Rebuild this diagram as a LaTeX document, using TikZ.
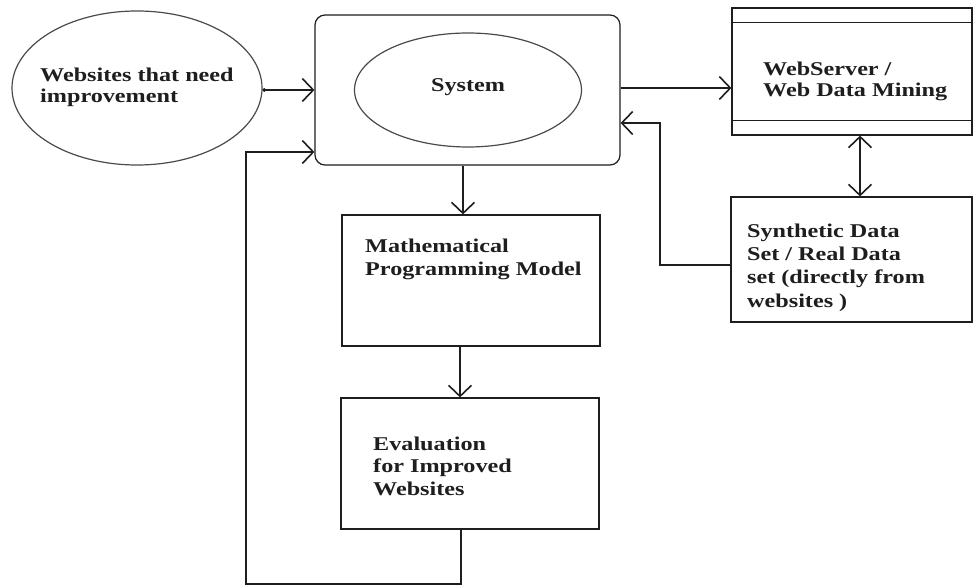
\documentclass[tikz,border=0pt]{standalone}
\usepackage{fontspec}
\setmainfont[FakeStretch=1.24]{Liberation Serif}
\usetikzlibrary{arrows.meta,calc,shapes.geometric}
\definecolor{ink}{HTML}{1E1E1E}
\definecolor{rim}{HTML}{4A4A4A}
\tikzset{
  shapebox/.style={draw=ink,line width=1.2pt,rectangle,inner sep=0pt},
  oval/.style={draw=rim,line width=1.2pt,ellipse,inner sep=0pt},
  lbl/.style={anchor=base west,inner sep=0pt,align=left,text=ink,
    font=\bfseries\fontsize{19.5}{21.5}\selectfont},
  barb/.tip={Straight Barb[length=11pt,width=23pt,line width=1.6pt]},
  arr/.style={draw=ink,line width=2.2pt,-barb},
  dbl/.style={draw=ink,line width=2.2pt,barb-barb}
}
\begin{document}
\begin{tikzpicture}[x=1pt,y=-1pt]
\useasboundingbox[fill=white] (0,0) rectangle (973,588);
% shapes
\node[oval,minimum width=250pt,minimum height=154pt] (web) at (137,88) {};
\node[shapebox,rounded corners=10pt,minimum width=305pt,minimum height=150pt] (sys) at (467.5,90) {};
\node[oval,minimum width=227pt,minimum height=114pt] (sysin) at (468,90) {};
\node[shapebox,minimum width=240pt,minimum height=127pt] (ws) at (852,71.5) {};
\draw[ink,line width=1.2pt] ([yshift=-15pt]ws.north west) -- ([yshift=-15pt]ws.north east);
\draw[ink,line width=1.2pt] ([yshift=15pt]ws.south west) -- ([yshift=15pt]ws.south east);
\node[shapebox,minimum width=241pt,minimum height=125pt] (syn) at (851.5,259.5) {};
\node[shapebox,minimum width=258pt,minimum height=131pt] (math) at (471,280.5) {};
\node[shapebox,minimum width=258pt,minimum height=131pt] (eval) at (470,463.5) {};
% texts (base anchor = baseline of the last line)
\node[lbl] (webt) at (40,103) {Websites that need\\improvement};
\node[lbl,anchor=base] (syst) at (468,92) {System};
\node[lbl] (wst) at (763,97) {WebServer /\\Web Data Mining};
\node[lbl,font=\bfseries\fontsize{19.5}{23}\selectfont] (matht) at (365,275) {Mathematical\\Programming Model};
\node[lbl,font=\bfseries\fontsize{19.5}{22.5}\selectfont] (evalt) at (373,495) {Evaluation\\for Improved\\Websites};
\node[lbl,font=\bfseries\fontsize{19.5}{23.3}\selectfont] (synt) at (747,307) {Synthetic Data\\Set / Real Data\\set (directly from\\websites )};
% connectors
\coordinate (bend) at (660,123);
\coordinate (lb) at (246,584);
\coordinate (lt) at (246,152);
\draw[arr,{Circle[length=3.5pt]}-barb] ([yshift=-2pt]web.east) -- ([yshift=-2pt]web.east -| sys.west);
\draw[arr] ([yshift=2pt]sys.east) -- ([yshift=2pt]sys.east -| ws.west);
\draw[arr] ([yshift=-5.5pt]syn.west) -| (bend) -- (bend -| sys.east);
\draw[dbl] ([xshift=8pt]ws.south) -- ([xshift=8pt]ws.south |- syn.north);
\draw[arr] ([xshift=-4.5pt]sys.south) -- ([xshift=-4.5pt]sys.south |- math.north);
\draw[arr] ([xshift=-11pt]math.south) -- ([xshift=-11pt]math.south |- eval.north);
\draw[arr] ([xshift=-9pt]eval.south) |- (lb) -- (lt) -- (lt -| sys.west);
\end{tikzpicture}
\end{document}
